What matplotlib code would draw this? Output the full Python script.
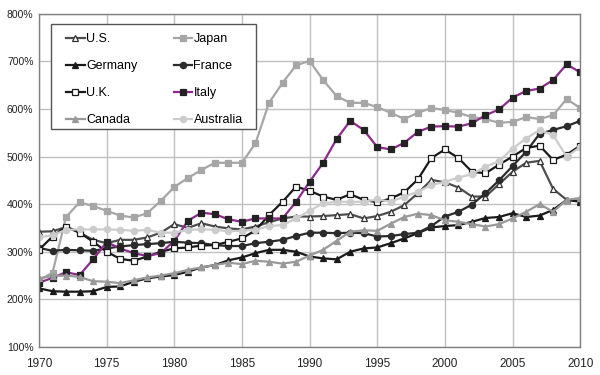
import matplotlib
matplotlib.use("Agg")
import matplotlib.pyplot as plt
from matplotlib.patches import Rectangle
from matplotlib.ticker import FuncFormatter, MultipleLocator

plt.rcParams['font.family'] = ['Liberation Sans', 'DejaVu Sans']

years = list(range(1970, 2011))

us = [342, 343, 352, 340, 325, 318, 325, 325, 330, 340,
      358, 350, 360, 353, 349, 347, 353, 362, 370, 374,
      374, 375, 377, 379, 370, 375, 384, 398, 423, 451,
      446, 435, 416, 416, 442, 468, 487, 491, 432, 409, 407]
japan = [240, 256, 373, 404, 396, 386, 376, 372, 381, 407,
         436, 455, 472, 487, 487, 487, 528, 613, 655, 692,
         701, 661, 627, 613, 613, 604, 592, 579, 592, 602,
         598, 592, 583, 579, 571, 573, 583, 579, 587, 621, 602]
germany = [223, 217, 216, 216, 217, 226, 227, 237, 244, 248,
           251, 258, 267, 272, 282, 288, 297, 304, 304, 300,
           290, 286, 284, 300, 307, 309, 318, 328, 339, 351,
           354, 356, 363, 371, 373, 381, 373, 376, 388, 409, 405]
france = [308, 302, 304, 303, 302, 307, 311, 314, 316, 318,
          321, 319, 318, 314, 312, 312, 318, 321, 325, 333,
          340, 340, 339, 340, 339, 332, 333, 337, 340, 354,
          374, 384, 399, 423, 450, 480, 510, 548, 556, 564, 575]
uk = [304, 332, 353, 340, 321, 300, 285, 281, 290, 300,
      307, 309, 313, 314, 321, 328, 345, 377, 405, 437,
      428, 416, 409, 421, 409, 404, 412, 425, 452, 497,
      515, 497, 468, 465, 483, 500, 518, 523, 493, 504, 523]
italy = [235, 245, 257, 251, 284, 320, 307, 297, 291, 297,
         323, 365, 382, 379, 368, 363, 370, 370, 370, 405,
         447, 487, 537, 575, 556, 520, 515, 529, 552, 563,
         564, 563, 570, 587, 599, 624, 638, 643, 661, 694, 677]
canada = [244, 249, 250, 247, 238, 237, 234, 240, 246, 250,
          255, 262, 267, 272, 277, 274, 281, 279, 275, 279,
          292, 304, 323, 342, 345, 344, 359, 373, 380, 377,
          366, 363, 358, 353, 358, 370, 384, 400, 384, 409, 413]
australia = [330, 335, 346, 347, 347, 347, 346, 344, 346, 340,
             340, 346, 347, 346, 343, 344, 346, 354, 356, 370,
             386, 402, 405, 405, 405, 410, 405, 416, 426, 440,
             447, 456, 463, 479, 490, 517, 538, 556, 545, 500, 520]

series = [
    ("U.S.", us, dict(color="#4d4d4d", marker="^", mfc="white", mec="#333333")),
    ("Japan", japan, dict(color="#a6a6a6", marker="s", mfc="#a6a6a6", mec="#a6a6a6")),
    ("Germany", germany, dict(color="#1a1a1a", marker="^", mfc="#1a1a1a", mec="#1a1a1a")),
    ("France", france, dict(color="#2b2b2b", marker="o", mfc="#2b2b2b", mec="#2b2b2b")),
    ("U.K.", uk, dict(color="#1a1a1a", marker="s", mfc="white", mec="#1a1a1a")),
    ("Italy", italy, dict(color="#8e2a8e", marker="s", mfc="#222222", mec="#222222")),
    ("Canada", canada, dict(color="#999999", marker="^", mfc="#999999", mec="#999999")),
    ("Australia", australia, dict(color="#cccccc", marker="o", mfc="#cccccc", mec="#cccccc")),
]

W, H = 600, 375
fig = plt.figure(figsize=(W / 100, H / 100), dpi=100)
ax = fig.add_axes([0.065, 0.075, 0.902, 0.888])

handles = {}
for name, vals, st in series:
    (h,) = ax.plot(years, vals, label=name, lw=1.6, ms=4.5, mew=0.9, **st)
    handles[name] = h

ax.set_xlim(1970, 2010)
ax.set_ylim(100, 800)
ax.xaxis.set_major_locator(MultipleLocator(5))
ax.yaxis.set_major_locator(MultipleLocator(100))
ax.yaxis.set_major_formatter(FuncFormatter(lambda v, p: f"{int(v)}%"))
ax.grid(True, color="#c0c0c0", lw=1.0)
ax.set_axisbelow(True)
for s in ax.spines.values():
    s.set_color("#808080")
    s.set_linewidth(1.0)
ax.tick_params(axis="both", length=0, labelsize=8.5, colors="#222222")
ax.tick_params(axis="x", pad=8)
ax.tick_params(axis="y", pad=4)
for lab in ax.get_yticklabels():
    lab.set_fontsize(7.5)

# legend is read row-wise: U.S./Japan, Germany/France, U.K./Italy, Canada/Australia
order = ["U.S.", "Germany", "U.K.", "Canada", "Japan", "France", "Italy", "Australia"]
leg = ax.legend([handles[n] for n in order], order, ncol=2, loc="upper left",
                bbox_to_anchor=(66 / W, 1 - 33 / H), bbox_transform=fig.transFigure,
                frameon=False, fontsize=9, handlelength=1.5,
                handletextpad=0.1, columnspacing=2.9, labelspacing=1.2,
                borderpad=0.0, borderaxespad=0.0)

# frame around the legend, with the padding of the original
fig.canvas.draw()
bb = leg.get_window_extent()
x0, x1 = bb.x0 - 15, bb.x1 + 13
y0, y1 = bb.y0 - 3, bb.y1 + 9
frame = Rectangle((x0 / W, y0 / H), (x1 - x0) / W, (y1 - y0) / H,
                  transform=fig.transFigure, facecolor="white",
                  edgecolor="#555555", lw=1.0, zorder=4.9)
leg.remove()
leg.set_zorder(5)
fig.add_artist(frame)
fig.add_artist(leg)

fig.savefig("out.png", dpi=100)
